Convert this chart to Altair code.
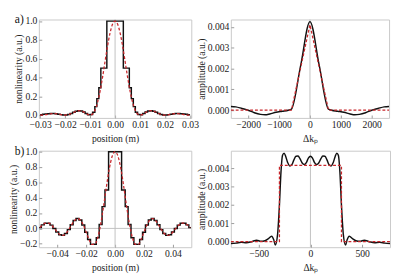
import altair as alt
import pandas as pd

FONT = "Liberation Serif"
BLACK = "#111111"
RED = "#c8262b"
FRAME = "#c8c8c8"
ZERO = "#c0c0c0"

# ---------------- panel a (left): nonlinearity vs position ----------------
a_pos_x = [-0.030, -0.029, -0.028, -0.027, -0.026, -0.025, -0.024, -0.023, -0.022, -0.021,
           -0.020, -0.019, -0.018, -0.017, -0.016, -0.015, -0.014, -0.013, -0.012, -0.011,
           -0.010, -0.009, -0.008, -0.007, -0.006, -0.005, -0.004, -0.003, -0.002, -0.001,
           0.000, 0.001, 0.002, 0.003, 0.004, 0.005, 0.006, 0.007, 0.008, 0.009,
           0.010, 0.011, 0.012, 0.013, 0.014, 0.015, 0.016, 0.017, 0.018, 0.019,
           0.020, 0.021, 0.022, 0.023, 0.024, 0.025, 0.026, 0.027, 0.028, 0.029, 0.030]
a_pos_red = [0.000, 0.001, 0.004, 0.008, 0.013, 0.016, 0.016, 0.012, 0.007, 0.002,
             0.000, 0.003, 0.011, 0.023, 0.036, 0.045, 0.047, 0.039, 0.024, 0.007,
             0.000, 0.012, 0.055, 0.137, 0.255, 0.405, 0.573, 0.737, 0.875, 0.968,
             1.000, 0.968, 0.875, 0.737, 0.573, 0.405, 0.255, 0.137, 0.055, 0.012,
             0.000, 0.007, 0.024, 0.039, 0.047, 0.045, 0.036, 0.023, 0.011, 0.003,
             0.000, 0.002, 0.007, 0.012, 0.016, 0.016, 0.013, 0.008, 0.004, 0.001, 0.000]
a_step_x = [-0.030, -0.029, -0.028, -0.027, -0.026, -0.025, -0.024, -0.023, -0.022, -0.021,
            -0.020, -0.019, -0.018, -0.017, -0.016, -0.015, -0.014, -0.013, -0.012, -0.011,
            -0.010, -0.009, -0.0081, -0.0073, -0.0065, -0.0057, -0.0033,
            0.0033, 0.0057, 0.0065, 0.0073, 0.0081, 0.009,
            0.010, 0.011, 0.012, 0.013, 0.014, 0.015, 0.016, 0.017, 0.018, 0.019,
            0.020, 0.021, 0.022, 0.023, 0.024, 0.025, 0.026, 0.027, 0.028, 0.029, 0.030]
a_step_y = [0.003, 0.008, 0.012, 0.015, 0.017, 0.016, 0.014, 0.010, 0.005, 0.002,
            0.001, 0.007, 0.017, 0.030, 0.041, 0.047, 0.044, 0.032, 0.016, 0.004,
            0.006, 0.030, 0.090, 0.175, 0.290, 0.500, 1.000,
            0.500, 0.290, 0.175, 0.090, 0.030, 0.006,
            0.004, 0.016, 0.032, 0.044, 0.047, 0.041, 0.030, 0.017, 0.007, 0.001,
            0.002, 0.005, 0.010, 0.014, 0.016, 0.017, 0.015, 0.012, 0.008, 0.003, 0.003]

# ---------------- panel a (right): amplitude vs delta k ----------------
a_k_red_x = [-2560, -600, 0, 600, 2560]
a_k_red_y = [0.0, 0.0, 0.0041, 0.0, 0.0]
a_k_blk_x = [-2560, -2400, -2200, -2000, -1800, -1600, -1450, -1300, -1100, -900, -700, -600,
             -300, 0, 300,
             600, 700, 900, 1100, 1300, 1450, 1600, 1800, 2000, 2200, 2400, 2560]
a_k_blk_y = [0.00018, 0.00016, 0.00008, 0.00000, -0.00012, -0.00020, -0.00022, -0.00018,
             -0.00010, -0.00005, 0.00000, 0.00005,
             0.00215, 0.00425, 0.00215,
             0.00005, 0.00000, -0.00005, -0.00010, -0.00018, -0.00022, -0.00020, -0.00012,
             0.00000, 0.00008, 0.00016, 0.00018]

# ---------------- panel b (left): nonlinearity vs position ----------------
b_pos_x = [-0.052, -0.050, -0.048, -0.046, -0.044, -0.042, -0.040, -0.038, -0.036, -0.034,
           -0.032, -0.030, -0.028, -0.026, -0.024, -0.022, -0.020, -0.018, -0.016, -0.014,
           -0.012, -0.010, -0.008, -0.006, -0.004, -0.002, 0.000, 0.002, 0.004, 0.006,
           0.008, 0.010, 0.012, 0.014, 0.016, 0.018, 0.020, 0.022, 0.024, 0.026,
           0.028, 0.030, 0.032, 0.034, 0.036, 0.038, 0.040, 0.042, 0.044, 0.046,
           0.048, 0.050, 0.052]
b_pos_red = [0.010, 0.046, 0.068, 0.068, 0.043, 0.000, -0.047, -0.082, -0.091, -0.067,
             -0.016, 0.048, 0.103, 0.128, 0.109, 0.045, -0.049, -0.145, -0.208, -0.207,
             -0.121, 0.050, 0.284, 0.543, 0.778, 0.941, 1.000, 0.941, 0.778, 0.543,
             0.284, 0.050, -0.121, -0.207, -0.208, -0.145, -0.049, 0.045, 0.109, 0.128,
             0.103, 0.048, -0.016, -0.067, -0.091, -0.082, -0.047, 0.000, 0.043, 0.068,
             0.068, 0.046, 0.010]
b_step_x = [-0.0525, -0.051, -0.049, -0.047, -0.045, -0.043, -0.041, -0.039, -0.037, -0.035,
            -0.033, -0.031, -0.029, -0.027, -0.025, -0.023, -0.021, -0.019, -0.017, -0.015,
            -0.013, -0.011, -0.009, -0.007, -0.0045,
            0.0045, 0.007, 0.009, 0.011, 0.013, 0.015, 0.017, 0.019, 0.021, 0.023,
            0.025, 0.027, 0.029, 0.031, 0.033, 0.035, 0.037, 0.039, 0.041, 0.043,
            0.045, 0.047, 0.049, 0.051, 0.0525]
b_step_y = [0.010, 0.046, 0.068, 0.068, 0.043, 0.000, -0.047, -0.082, -0.091, -0.067,
            -0.016, 0.048, 0.103, 0.128, 0.109, 0.045, -0.049, -0.145, -0.208, -0.207,
            -0.121, 0.050, 0.284, 0.500, 1.000,
            0.500, 0.284, 0.050, -0.121, -0.207, -0.208, -0.145, -0.049, 0.045, 0.109,
            0.128, 0.103, 0.048, -0.016, -0.067, -0.091, -0.082, -0.047, 0.000, 0.043,
            0.068, 0.068, 0.046, 0.010, 0.010]

# ---------------- panel b (right): amplitude vs delta k ----------------
b_k_red_x = [-770, -300, -300, 300, 300, 770]
b_k_red_y = [0.0, 0.0, 0.00415, 0.00415, 0.0, 0.0]
b_k_blk_x = [-770, -720, -670, -620, -570, -520, -480, -440, -410, -375, -355, -340, -318,
             -300, -285, -270, -255, -240, -220, -200, -180, -160, -140, -120, -100, -80,
             -60, -40, -20, 0, 20, 40, 60, 80, 100, 120, 140, 160, 180, 200, 220, 240,
             255, 270, 285, 300, 318, 340, 355, 375, 410, 440, 480, 520, 570, 620, 670,
             720, 770]
b_k_blk_y = [-0.00010, -0.00008, -0.00003, -0.00006, 0.00000, 0.00008, 0.00002, 0.00005,
             0.00015, 0.00030, 0.00010, -0.00018, 0.00040,
             0.00200, 0.00380, 0.00470, 0.00482, 0.00465, 0.00430, 0.00412, 0.00418,
             0.00445, 0.00465, 0.00466, 0.00450, 0.00428, 0.00420, 0.00430, 0.00455,
             0.00465, 0.00455, 0.00430, 0.00420, 0.00428, 0.00450, 0.00466, 0.00465,
             0.00445, 0.00418, 0.00412, 0.00430, 0.00465, 0.00482, 0.00470, 0.00380,
             0.00200, 0.00040, -0.00018, 0.00010, 0.00030, 0.00015, 0.00005, 0.00002,
             0.00008, 0.00000, -0.00006, -0.00003, -0.00008, -0.00010]


def axis(values, fmt, title, tpad):
    return alt.Axis(values=values, format=fmt, title=title, grid=False, domain=False,
                    ticks=True, tickSize=3, tickColor="#9a9a9a", offset=-3,
                    labelPadding=2, titlePadding=tpad, labelFont=FONT, labelFontSize=10,
                    titleFont=FONT, titleFontSize=10, titleFontWeight="normal",
                    labelColor="#222222", titleColor="#222222", labelFlush=False,
                    labelOverlap=False, labelBound=False)


def panel(bx, by, binterp, rx, ry, rinterp, xdom, ydom, xt, yt, xfmt, yfmt,
          xtitle, ytitle, w, h, hline=False, tag=None):
    xs = alt.Scale(domain=xdom, nice=False, zero=False)
    ys = alt.Scale(domain=ydom, nice=False, zero=False)
    xa = axis(xt, xfmt, xtitle, 4)
    ya = axis(yt, yfmt, ytitle, 1)
    blk = pd.DataFrame({"x": bx, "y": by, "i": list(range(len(bx)))})
    red = pd.DataFrame({"x": rx, "y": ry, "i": list(range(len(rx)))})
    layers = []
    bl = alt.Chart(blk).mark_line(color=BLACK, strokeWidth=1.5, interpolate=binterp,
                                  clip=True).encode(
        x=alt.X("x:Q", scale=xs, axis=xa),
        y=alt.Y("y:Q", scale=ys, axis=ya),
        order="i:Q")
    vr = alt.Chart(pd.DataFrame({"x": [0.0]})).mark_rule(color=ZERO, strokeWidth=1).encode(
        x=alt.X("x:Q", scale=xs, axis=xa))
    layers.append(vr)
    if hline:
        hr = alt.Chart(pd.DataFrame({"y": [0.0]})).mark_rule(color=ZERO, strokeWidth=1).encode(
            y=alt.Y("y:Q", scale=ys, axis=ya))
        layers.append(hr)
    rl = alt.Chart(red).mark_line(color=RED, strokeWidth=1.3, strokeDash=[3, 2],
                                  interpolate=rinterp, clip=True).encode(
        x=alt.X("x:Q", scale=xs, axis=xa),
        y=alt.Y("y:Q", scale=ys, axis=ya),
        order="i:Q")
    layers += [bl, rl]
    if tag:
        tg = alt.Chart(pd.DataFrame({"t": [tag]})).mark_text(
            text=tag, font=FONT, fontSize=12, align="left", baseline="alphabetic",
            color="#111111").encode(x=alt.value(-25), y=alt.value(4))
        layers.append(tg)
    return alt.layer(*layers).properties(width=w, height=h)


p1 = panel(a_step_x, a_step_y, "step-after", a_pos_x, a_pos_red, "monotone",
           [-0.0305, 0.0305], [-0.03, 1.017],
           [-0.03, -0.02, -0.01, 0.0, 0.01, 0.02, 0.03], [0.0, 0.2, 0.4, 0.6, 0.8, 1.0],
           ".2f", ".1f", "position (m)", "nonlinearity (a.u.)", 158, 102, tag="a)")
p2 = panel(a_k_blk_x, a_k_blk_y, "monotone", a_k_red_x, a_k_red_y, "linear",
           [-2560, 2560], [-0.00037, 0.00435],
           [-2000, -1000, 0, 1000, 2000], [0.0, 0.001, 0.002, 0.003, 0.004],
           "d", ".3f", "Δkₚ", "amplitude (a.u.)", 164, 102)
p3 = panel(b_step_x, b_step_y, "step-after", b_pos_x, b_pos_red, "monotone",
           [-0.0527, 0.0527], [-0.245, 1.013],
           [-0.04, -0.02, 0.0, 0.02, 0.04], [-0.2, 0.0, 0.2, 0.4, 0.6, 0.8, 1.0],
           ".2f", ".1f", "position (m)", "nonlinearity (a.u.)", 158, 100, hline=True, tag="b)")
p4 = panel(b_k_blk_x, b_k_blk_y, "monotone", b_k_red_x, b_k_red_y, "linear",
           [-770, 770], [-0.0003, 0.00495],
           [-500, 0, 500], [0.0, 0.001, 0.002, 0.003, 0.004],
           "d", ".3f", "Δkₚ", "amplitude (a.u.)", 165, 100)

chart = alt.concat(p1, p2, p3, p4, columns=2, spacing={"row": 34, "column": 41},
                   bounds="flush").properties(
    padding={"left": 0, "top": 0, "right": 0, "bottom": 0},
    background="white"
).configure_view(stroke=FRAME, strokeWidth=1)

chart.save("out.html", embed_options={"renderer": "svg", "actions": False})
